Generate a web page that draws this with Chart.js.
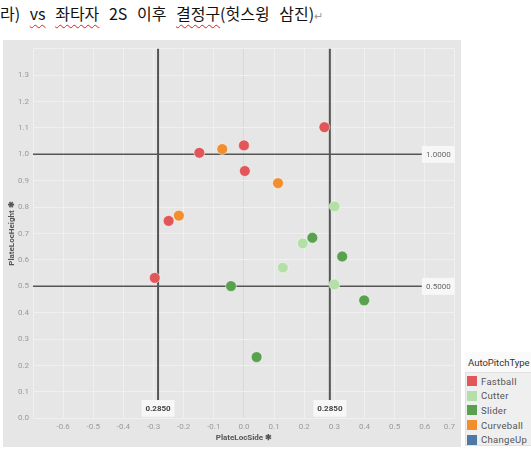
<!DOCTYPE html>
<html>
<head>
<meta charset="utf-8">
<script src="https://cdn.jsdelivr.net/npm/chart.js@4/dist/chart.umd.min.js"></script>
<style>
  body { margin: 0; width: 531px; height: 463px; background: #fff; position: relative; overflow: hidden; }
  #title {
    position: absolute; left: 0; top: 3px; white-space: nowrap;
    font: 16px/20px "Noto Sans CJK KR", sans-serif; color: #111; word-spacing: 6px;
  }
  #title .sp { text-decoration: underline wavy #e02020; text-decoration-thickness: 1px; text-underline-offset: 4px; }
  #title .ret { color: #999; font-size: 11px; word-spacing: 0; }
  #panel { position: absolute; left: 3px; top: 40px; width: 458px; height: 407px; background: #e6e6e6; }
  #legend { position: absolute; left: 465px; top: 352px; width: 66px; height: 93px; font-family: Roboto, sans-serif; }
  #legend .head { height: 20px; line-height: 21px; font-size: 9.5px; color: #333; padding-left: 3px; background: #fafafa; }
  #legend .items { background: #efefef; border: 1px solid #e0e0e0; border-right: none; height: 71px; padding-top: 1px; }
  #legend .row { height: 14.6px; display: flex; align-items: center; font-size: 9.5px; color: #555; letter-spacing: 0.3px; }
  #legend .sw { width: 10px; height: 10px; margin: 0 4px 0 1px; }
</style>
</head>
<body>
<div id="title"><span>라)</span> <span class="sp">vs</span> <span class="sp">좌타자</span> 2S 이후 <span class="sp">결정구</span>(헛스윙 삼진)<span class="ret">↵</span></div>
<div id="panel"><canvas id="chart"></canvas></div>
<div id="legend"><div class="head">AutoPitchType</div><div class="items" id="legendItems"></div></div>
<script>
// pitch types and colours (legend order)
const pitchTypes = ["Fastball", "Cutter", "Slider", "Curveball", "ChangeUp"];
const pitchColors = ["#e15759", "#b3e0a6", "#59a14f", "#f28e2b", "#4e79a7"];

// PlateLocSide / PlateLocHeight per pitch type
const fastballX = [0.267, 0.000, -0.148, 0.003, -0.250, -0.296];
const fastballY = [1.103, 1.034, 1.006, 0.937, 0.748, 0.532];
const cutterX = [0.301, 0.195, 0.129, 0.300];
const cutterY = [0.803, 0.663, 0.571, 0.507];
const sliderX = [0.227, 0.326, -0.043, 0.399, 0.042];
const sliderY = [0.684, 0.613, 0.501, 0.447, 0.232];
const curveballX = [-0.072, 0.113, -0.216];
const curveballY = [1.020, 0.891, 0.768];
const changeUpX = [];
const changeUpY = [];

// reference lines
const refX = [-0.285, 0.285];
const refXLabels = ["0.2850", "0.2850"];
const refY = [1.0, 0.5];
const refYLabels = ["1.0000", "0.5000"];

const seriesX = [fastballX, cutterX, sliderX, curveballX, changeUpX];
const seriesY = [fastballY, cutterY, sliderY, curveballY, changeUpY];

// legend
const legendItems = document.getElementById("legendItems");
pitchTypes.forEach((name, i) => {
  const row = document.createElement("div");
  row.className = "row";
  row.innerHTML = `<span class="sw" style="background:${pitchColors[i]}"></span>${name}`;
  legendItems.appendChild(row);
});

const tickFont = { family: "Roboto", size: 8 };
const titleFont = { family: "Roboto", size: 8, weight: "bold" };

const refLines = {
  id: "refLines",
  beforeDatasetsDraw(chart) {
    const { ctx, chartArea: a, scales: { x, y } } = chart;
    ctx.save();
    ctx.strokeStyle = "#555";
    refY.forEach(v => {
      const py = y.getPixelForValue(v);
      ctx.lineWidth = 1.5;
      ctx.beginPath(); ctx.moveTo(a.left, py); ctx.lineTo(a.right - 33, py); ctx.stroke();
    });
    refX.forEach(v => {
      const px = x.getPixelForValue(v);
      ctx.lineWidth = 2;
      ctx.beginPath(); ctx.moveTo(px, a.top); ctx.lineTo(px, a.bottom - 18); ctx.stroke();
    });
    ctx.restore();
  },
  afterDatasetsDraw(chart) {
    const { ctx, chartArea: a, scales: { x, y } } = chart;
    ctx.save();
    ctx.textAlign = "center";
    ctx.textBaseline = "middle";
    refY.forEach((v, i) => {
      const py = y.getPixelForValue(v);
      ctx.fillStyle = "#f7f7f7";
      ctx.fillRect(a.right - 33, py - 8.5, 33, 17);
      ctx.fillStyle = "#666";
      ctx.font = "8px Roboto";
      ctx.fillText(refYLabels[i], a.right - 16.5, py + 0.5);
    });
    refX.forEach((v, i) => {
      const px = x.getPixelForValue(v);
      ctx.fillStyle = "#f7f7f7";
      ctx.fillRect(px - 16.5, a.bottom - 18.3, 33, 16.7);
      ctx.fillStyle = "#444";
      ctx.font = "bold 8px Roboto";
      ctx.fillText(refXLabels[i], px, a.bottom - 9.8);
    });
    ctx.restore();
  }
};

new Chart(document.getElementById("chart"), {
  type: "scatter",
  data: {
    datasets: pitchTypes.map((name, i) => ({
      label: name,
      data: seriesX[i].map((v, j) => ({ x: v, y: seriesY[i][j] })),
      backgroundColor: pitchColors[i],
      borderColor: "rgba(255,255,255,0.7)",
      borderWidth: 0.7,
      pointRadius: 5.4
    }))
  },
  options: {
    responsive: true,
    maintainAspectRatio: false,
    animation: false,
    layout: { padding: { top: 6, right: 4, left: 0, bottom: 0 } },
    plugins: { legend: { display: false }, tooltip: { enabled: false } },
    scales: {
      x: {
        type: "linear",
        min: -0.7,
        max: 0.7,
        border: { display: false },
        grid: {
          drawTicks: false,
          color: ctx => Math.abs(ctx.tick.value) < 1e-9 ? "#d9d9d9" : "#f0f0f0"
        },
        ticks: {
          stepSize: 0.1,
          autoSkip: false,
          maxRotation: 0,
          align: "inner",
          padding: 4,
          color: "#9a9a9a",
          font: tickFont,
          callback: v => (v < -0.65 ? "" : v.toFixed(1))
        },
        title: { display: true, text: "PlateLocSide ✱", color: "#555", font: titleFont, padding: { top: 0, bottom: 4 } },
        afterFit: s => { s.height = 28.7; }
      },
      y: {
        type: "linear",
        min: 0,
        max: 1.4,
        border: { display: false },
        grid: { drawTicks: false, color: "#f0f0f0" },
        ticks: {
          stepSize: 0.1,
          autoSkip: false,
          padding: 4,
          color: "#9a9a9a",
          font: tickFont,
          callback: v => (v > 1.35 ? "" : v.toFixed(1))
        },
        title: { display: true, text: "PlateLocHeight ✱", color: "#555", font: titleFont, padding: { top: 4, bottom: 0 } },
        afterFit: s => { s.width = 30; }
      }
    }
  },
  plugins: [refLines]
});
</script>
</body>
</html>
